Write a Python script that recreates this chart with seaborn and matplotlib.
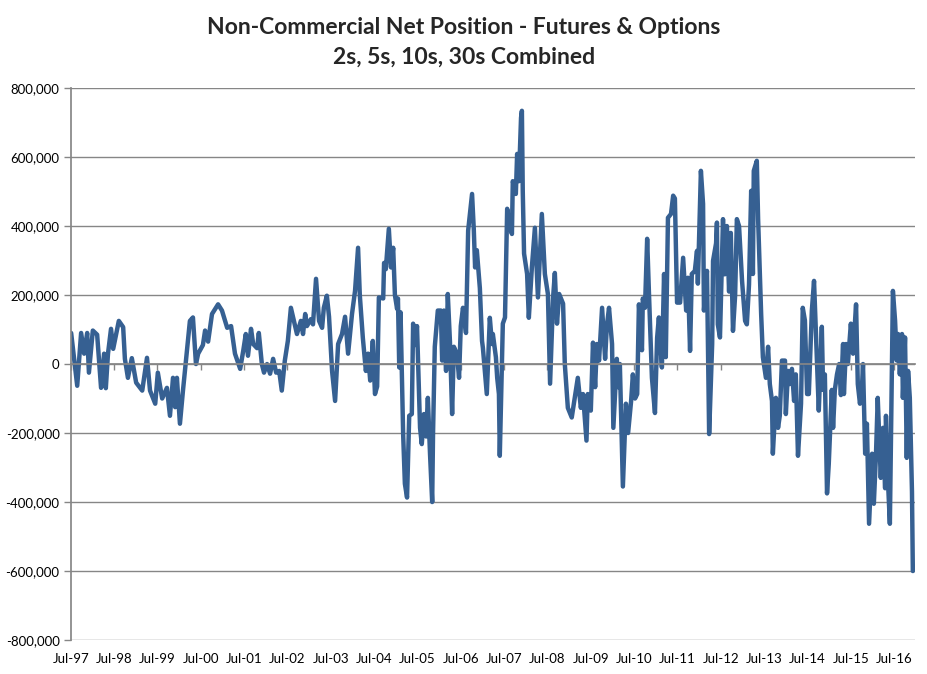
import matplotlib
matplotlib.use("Agg")
import matplotlib.pyplot as plt
from matplotlib.ticker import FuncFormatter
import numpy as np
import pandas as pd
import seaborn as sns

obs_year = [
    1997.51, 1997.65, 1997.74, 1997.81, 1997.88, 1997.92, 1998.01, 1998.11, 1998.20, 1998.27, 1998.31, 1998.36, 1998.43, 1998.48,
    1998.61, 1998.71, 1998.75, 1998.82, 1998.91, 1999.01, 1999.15, 1999.26, 1999.33, 1999.45,
    1999.51, 1999.61, 1999.72, 1999.79, 1999.86, 1999.91, 1999.95, 2000.02, 2000.09, 2000.25, 2000.32, 2000.39, 2000.44,
    2000.55, 2000.60, 2000.67, 2000.76, 2000.90, 2000.99, 2001.11, 2001.20, 2001.29, 2001.41, 2001.48,
    2001.54, 2001.59, 2001.66, 2001.71, 2001.80, 2001.84, 2001.91, 2001.96, 2002.03, 2002.10, 2002.17, 2002.24, 2002.31, 2002.37, 2002.44,
    2002.51, 2002.58, 2002.65, 2002.72, 2002.81, 2002.86, 2002.91, 2002.95, 2003.04, 2003.09, 2003.16, 2003.23, 2003.30, 2003.34, 2003.41, 2003.46,
    2003.53, 2003.60, 2003.67, 2003.76, 2003.83, 2003.90, 2003.99, 2004.06, 2004.13, 2004.17, 2004.24, 2004.31, 2004.36, 2004.41, 2004.47,
    2004.52, 2004.57, 2004.61, 2004.71, 2004.73, 2004.77, 2004.84, 2004.89, 2004.94, 2004.98, 2005.03, 2005.05, 2005.08, 2005.11, 2005.17,
    2005.21, 2005.26, 2005.31, 2005.37, 2005.40, 2005.44, 2005.49,
    2005.56, 2005.60, 2005.65, 2005.70, 2005.74, 2005.79, 2005.84, 2005.86, 2005.90, 2005.97, 2006.04, 2006.07, 2006.11, 2006.16, 2006.20,
    2006.25, 2006.30, 2006.34, 2006.41, 2006.46,
    2006.50, 2006.55, 2006.62, 2006.67, 2006.76, 2006.80, 2006.83, 2006.87, 2006.94, 2006.99, 2007.01, 2007.06, 2007.10, 2007.17, 2007.22,
    2007.24, 2007.31, 2007.34, 2007.38, 2007.40, 2007.47,
    2007.52, 2007.57, 2007.63, 2007.68, 2007.70, 2007.77, 2007.80, 2007.84, 2007.89, 2007.91, 2007.93, 2007.96, 2008.03, 2008.07, 2008.14,
    2008.21, 2008.28, 2008.37, 2008.44,
    2008.51, 2008.56, 2008.63, 2008.67, 2008.72, 2008.77, 2008.86, 2008.90, 2008.97, 2009.06, 2009.13, 2009.20, 2009.27, 2009.32, 2009.40, 2009.43,
    2009.50, 2009.55, 2009.60, 2009.64, 2009.69, 2009.76, 2009.83, 2009.87, 2009.92, 2009.99, 2010.02, 2010.10, 2010.13, 2010.17, 2010.24,
    2010.31, 2010.36, 2010.43, 2010.47, 2010.52, 2010.57,
    2010.61, 2010.68, 2010.70, 2010.75, 2010.80, 2010.84, 2010.91, 2010.98, 2011.03, 2011.07, 2011.14, 2011.19, 2011.23, 2011.28, 2011.35,
    2011.40, 2011.44, 2011.49,
    2011.56, 2011.63, 2011.70, 2011.74, 2011.79, 2011.83, 2011.90, 2011.95, 2011.97, 2012.04, 2012.09, 2012.11, 2012.18, 2012.23, 2012.30,
    2012.32, 2012.39, 2012.41, 2012.43, 2012.48,
    2012.55, 2012.59, 2012.64, 2012.69, 2012.73, 2012.78, 2012.83, 2012.87, 2012.92, 2012.99, 2013.06, 2013.10, 2013.15, 2013.20, 2013.24,
    2013.26, 2013.33, 2013.36, 2013.43, 2013.47,
    2013.54, 2013.59, 2013.63, 2013.68, 2013.70, 2013.77, 2013.82, 2013.86, 2013.91, 2013.98, 2014.00, 2014.05, 2014.09, 2014.14, 2014.19,
    2014.23, 2014.28, 2014.35, 2014.39, 2014.44, 2014.49,
    2014.53, 2014.60, 2014.65, 2014.69, 2014.72, 2014.76, 2014.83, 2014.86, 2014.90, 2014.95, 2014.99, 2015.06, 2015.09, 2015.13, 2015.18,
    2015.23, 2015.27, 2015.32, 2015.34, 2015.39, 2015.43,
    2015.50, 2015.55, 2015.62, 2015.66, 2015.71, 2015.76, 2015.78, 2015.83, 2015.87, 2015.92, 2015.99, 2016.03, 2016.08, 2016.12, 2016.19,
    2016.24, 2016.29, 2016.31, 2016.36, 2016.40, 2016.47,
    2016.52, 2016.56, 2016.59, 2016.63, 2016.68, 2016.70, 2016.75, 2016.79, 2016.82, 2016.86, 2016.91, 2016.93,
]

# net position, thousands of contracts
net_k = [
    90, -63, 90, 30, 90, -25, 97, 85, -69, 30, -70, 30, 102, 44,
    125, 107, 15, -40, 17, -54, -77, 18, -77, -115,
    -25, -100, -69, -150, -40, -125, -40, -173, -77, 125, 135, 0, 30,
    55, 97, 65, 145, 173, 155, 105, 110, 30, -14, 38,
    87, 24, 102, 58, 46, 90, 0, -25, 0, -28, 15, -25, -20, -77, 10,
    67, 163, 125, 87, 125, 87, 145, 110, 130, 115, 247, 125, 105, 163, 198, 137,
    -20, -107, 58, 87, 137, 30, 145, 212, 337, 200, 76, -20, 30, -48, 67,
    -87, -65, 193, 190, 293, 275, 392, 280, 337, 200, 160, 190, -10, 150, -203,
    -347, -387, -150, -145, 117, 55, 110,
    -185, -232, -145, -210, -98, -260, -400, -200, 50, 155, 155, 10, 155, -20, 203,
    65, -145, 50, 30, -40,
    110, 163, 90, 387, 493, 390, 280, 330, 220, 67, 47, -28, -87, 134, 58,
    87, 20, -40, -87, -266, 117,
    135, 450, 400, 377, 530, 493, 609, 530, 714, 734, 500, 320, 261, 134, 280,
    395, 193, 435, 261,
    203, -57, 193, 264, 117, 203, 175, 0, -127, -155, -98, -40, -127, -87, -222, -87,
    -135, 62, -67, 58, 10, 163, 15, 110, 163, 58, -185, 15, -67, 0, -355,
    -115, -200, -107, -30, -100, -87,
    173, 40, 190, 163, 363, 211, -40, -142, 76, 135, -10, 261, 20, 424, 435,
    488, 480, 178,
    178, 308, 155, 250, 38, 261, 270, 328, 233, 560, 464, 155, 270, -203, 58,
    299, 350, 410, 115, 77,
    420, 260, 400, 210, 380, 96, 200, 420, 400, 240, 125, 115, 230, 502, 261,
    560, 589, 420, 145, 20,
    -40, 50, -58, -107, -260, -98, -185, -150, 10, 10, -145, -20, -58, -14, -107,
    -30, -266, -115, 163, 126, -87,
    -87, 155, 241, 108, 0, -135, 108, -75, -30, -375, -290, -75, -185, -75, -30,
    0, -90, 58, -87, 58, 0,
    117, 30, 173, -58, -115, -57, 0, -260, -173, -463, -260, -405, -260, -98, -330,
    -185, -360, -150, -350, -463, 212,
    126, 10, 87, -30, 87, -98, 77, -272, -20, -98, -370, -600,
]

tick_years = [1997.5 + k for k in range(20)]
tick_labels = [f"Jul-{(97 + k) % 100:02d}" for k in range(20)]
y_ticks = list(range(-800000, 800001, 200000))

LINE = "#366092"
GRID = "#868686"

sns.set_theme(style="white")
plt.rcParams["font.family"] = ["Lato", "DejaVu Sans"]

fig = plt.figure(figsize=(9.28, 6.74), dpi=100)
ax = fig.add_axes([0.0762, 0.0504, 0.9098, 0.819])

df = pd.DataFrame({"date": obs_year, "net": np.array(net_k) * 1000})
sns.lineplot(data=df, x="date", y="net", ax=ax, color=LINE, linewidth=3.2,
             estimator=None, sort=False, solid_joinstyle="round")

ax.set_xlim(1997.5, 2016.98)
ax.set_ylim(-800000, 800000)
ax.set_xlabel("")
ax.set_ylabel("")

ax.set_yticks(y_ticks)
ax.yaxis.set_major_formatter(FuncFormatter(lambda v, p: f"{v:,.0f}"))
ax.grid(axis="y", color=GRID, linewidth=1)
ax.grid(axis="x", visible=False)
ax.set_axisbelow(True)

for side in ("top", "right"):
    ax.spines[side].set_visible(False)
ax.spines["left"].set_color(GRID)
ax.spines["bottom"].set_color(GRID)
ax.spines["bottom"].set_position(("data", 0))

ax.tick_params(axis="y", left=True, length=5, width=1, color=GRID,
               labelsize=9.5, pad=3, labelcolor="#000000")
ax.set_xticks(tick_years)
ax.tick_params(axis="x", bottom=True, length=4, width=1, direction="out",
               color=GRID, labelbottom=False)

# date labels sit at the foot of the plot, the axis line crosses at zero
sec = ax.secondary_xaxis("bottom")
sec.set_xticks(tick_years, labels=tick_labels)
sec.tick_params(length=0, pad=9, labelsize=9.5, labelcolor="#000000")
sec.spines["bottom"].set_visible(False)

fig.text(0.5, 1 - 17 / 674,
         "Non-Commercial Net Position - Futures & Options\n2s, 5s, 10s, 30s Combined",
         ha="center", va="top", fontsize=16.5, fontweight="bold", linespacing=1.5)

fig.savefig("out.png", dpi=100, facecolor="white")
plt.close(fig)
